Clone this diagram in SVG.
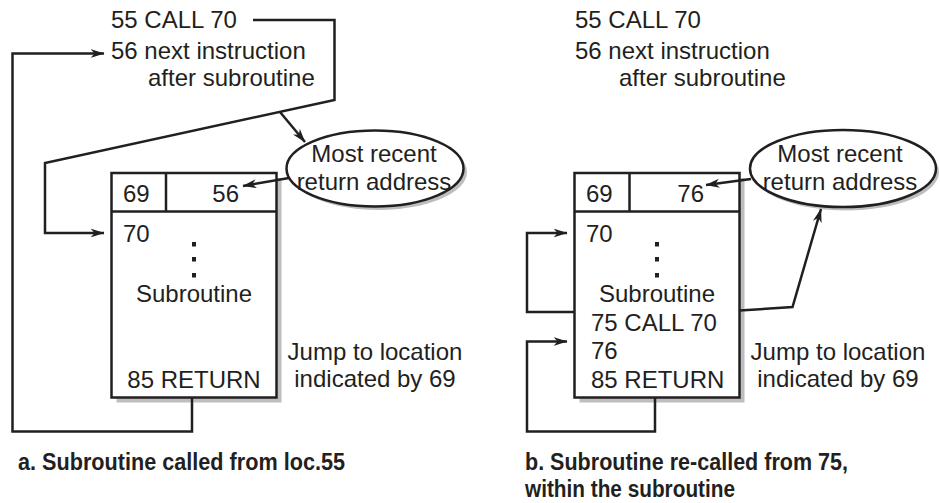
<svg xmlns="http://www.w3.org/2000/svg" width="940" height="503" viewBox="0 0 940 503">
  <defs>
    <marker id="arr" viewBox="0 0 14 10" refX="13.5" refY="5" markerWidth="14" markerHeight="10" markerUnits="userSpaceOnUse" orient="auto">
      <path d="M0,0.5 L14,5 L0,9.5 L4,5 Z" fill="#231f20"/>
    </marker>
  </defs>
  <style>
    .t { font-family: "Liberation Sans", Arial, sans-serif; font-size: 24px; fill: #231f20; }
    .m { text-anchor: middle; }
    .cap { font-family: "Liberation Sans", Arial, sans-serif; font-size: 23px; font-weight: bold; fill: #231f20; }
    .ln { fill: none; stroke: #231f20; stroke-width: 2.5; stroke-linejoin: miter; }
    .arw { marker-end: url(#arr); }
    .box { fill: #ffffff; stroke: #231f20; stroke-width: 2.5; }
    .div { stroke: #231f20; stroke-width: 2.5; }
    .shd { fill: #bcbec0; stroke: none; }
    .dot { fill: #231f20; }
  </style>
  <rect x="0" y="0" width="940" height="503" fill="#ffffff"/>

  <!-- ============ Panel a ============ -->
  <g id="a-code">
    <text class="t" x="111" y="27.5">55 CALL 70</text>
    <text class="t" x="111" y="59">56 next instruction</text>
    <text class="t" x="148" y="86">after subroutine</text>
  </g>

  <g id="a-box">
    <rect class="shd" x="116.5" y="178" width="165" height="224.5"/>
    <rect class="box" x="111.5" y="173" width="165" height="224.5"/>
    <line class="div" x1="111.5" y1="211.5" x2="276.5" y2="211.5"/>
    <line class="div" x1="166" y1="173" x2="166" y2="211.5"/>
    <text class="t" x="123" y="202">69</text>
    <text class="t" x="239" y="202" text-anchor="end">56</text>
    <text class="t" x="123" y="242">70</text>
    <rect class="dot" x="192" y="242" width="4" height="4.5"/>
    <rect class="dot" x="192" y="257" width="4" height="4.5"/>
    <rect class="dot" x="192" y="273" width="4" height="4.5"/>
    <text class="t m" x="194" y="301.5">Subroutine</text>
    <text class="t m" x="194" y="387.5">85 RETURN</text>
  </g>

  <g id="a-ellipse">
    <ellipse class="shd" cx="378.5" cy="172" rx="88.5" ry="38"/>
    <ellipse class="box" cx="375" cy="168.5" rx="88.5" ry="38"/>
    <text class="t m" x="374" y="161.5">Most recent</text>
    <text class="t m" x="374" y="190">return address</text>
  </g>

  <g id="a-jump-label">
    <text class="t m" x="375" y="360">Jump to location</text>
    <text class="t m" x="375" y="387">indicated by 69</text>
  </g>

  <g id="a-connectors">
    <polyline class="ln arw" points="253,20 334.5,20 334.5,100 45,163 45,233 104,233"/>
    <line class="ln arw" x1="280" y1="112" x2="305" y2="142"/>
    <line class="ln arw" x1="289" y1="178" x2="243" y2="186"/>
    <polyline class="ln arw" points="192,397.5 192,431.5 12.5,431.5 12.5,53.5 104,53.5"/>
  </g>

  <g id="a-caption">
    <text class="cap" x="18" y="470" textLength="327" lengthAdjust="spacingAndGlyphs">a. Subroutine called from loc.55</text>
  </g>

  <!-- ============ Panel b ============ -->
  <g id="b-code">
    <text class="t" x="575" y="27.5">55 CALL 70</text>
    <text class="t" x="575" y="59">56 next instruction</text>
    <text class="t" x="619" y="86">after subroutine</text>
  </g>

  <g id="b-box">
    <rect class="shd" x="579.5" y="178" width="165" height="224.5"/>
    <rect class="box" x="574.5" y="173" width="165" height="224.5"/>
    <line class="div" x1="574.5" y1="211.5" x2="739.5" y2="211.5"/>
    <line class="div" x1="629.5" y1="173" x2="629.5" y2="211.5"/>
    <text class="t" x="586" y="202">69</text>
    <text class="t" x="704" y="202" text-anchor="end">76</text>
    <text class="t" x="586" y="242">70</text>
    <rect class="dot" x="655" y="242" width="4" height="4.5"/>
    <rect class="dot" x="655" y="257" width="4" height="4.5"/>
    <rect class="dot" x="655" y="273" width="4" height="4.5"/>
    <text class="t m" x="657" y="301.5">Subroutine</text>
    <text class="t" x="591" y="330.5">75 CALL 70</text>
    <text class="t" x="591" y="358.5">76</text>
    <text class="t" x="591" y="387.5">85 RETURN</text>
  </g>

  <g id="b-ellipse">
    <ellipse class="shd" cx="846" cy="172" rx="93" ry="38.5"/>
    <ellipse class="box" cx="843" cy="168.5" rx="93" ry="38.5"/>
    <text class="t m" x="840" y="161.5">Most recent</text>
    <text class="t m" x="840" y="190">return address</text>
  </g>

  <g id="b-jump-label">
    <text class="t m" x="838" y="360">Jump to location</text>
    <text class="t m" x="838" y="387">indicated by 69</text>
  </g>

  <g id="b-connectors">
    <line class="ln arw" x1="751" y1="179" x2="706" y2="185"/>
    <polyline class="ln arw" points="574.5,312 527,312 527,233 567,233"/>
    <polyline class="ln arw" points="655,397.5 655,431.5 527,431.5 527,341.5 567,341.5"/>
    <polyline class="ln arw" points="739.5,310.5 792.5,307 821,209"/>
  </g>

  <g id="b-caption">
    <text class="cap" x="525" y="470" textLength="323" lengthAdjust="spacingAndGlyphs">b. Subroutine re-called from 75,</text>
    <text class="cap" x="525" y="496.5" textLength="210" lengthAdjust="spacingAndGlyphs">within the subroutine</text>
  </g>
</svg>
